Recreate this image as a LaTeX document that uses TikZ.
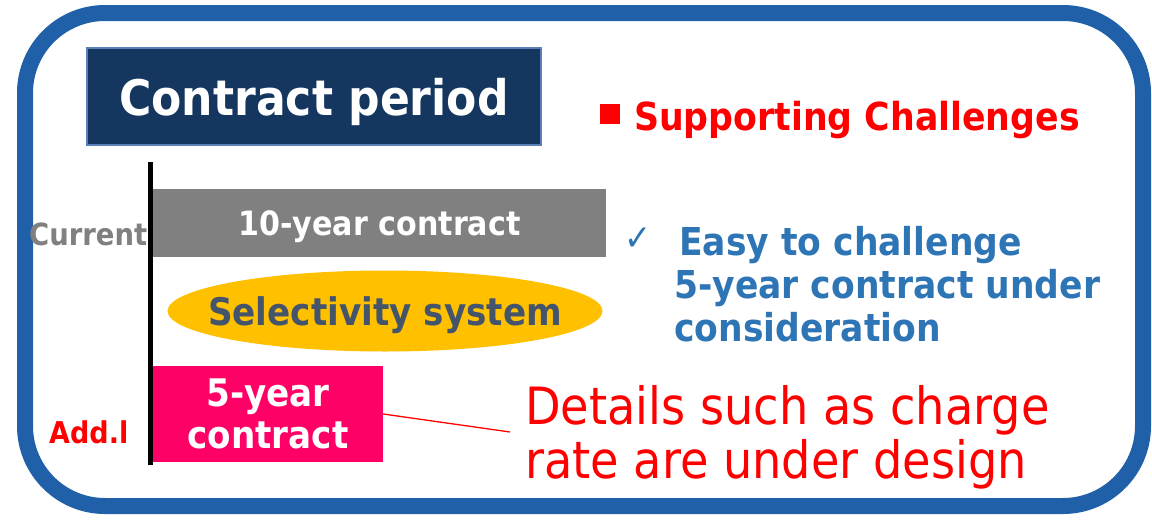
\documentclass[tikz,border=0pt]{standalone}
\usepackage{fontspec}
\setmainfont{DejaVu Sans}[FakeStretch=0.9]
\usetikzlibrary{shapes.geometric}
\definecolor{frameblue}{HTML}{2060A8}
\definecolor{navy}{HTML}{14365F}
\definecolor{navyedge}{HTML}{5A80B8}
\definecolor{bargray}{HTML}{808080}
\definecolor{gold}{HTML}{FFC000}
\definecolor{slate}{HTML}{44546A}
\definecolor{hotpink}{HTML}{FF0066}
\definecolor{textblue}{HTML}{2E75B6}
\newcommand{\fs}[1]{\fontsize{#1}{#1}\selectfont}
\tikzset{
  txt/.style={inner sep=0pt, anchor=base west},
  barbox/.style={inner sep=0pt, text=white, font=\bfseries\fs{33.5}, text depth=0pt},
}
\begin{document}
\begin{tikzpicture}[x=1pt, y=-1pt]
\useasboundingbox (0,0) rectangle (1152,520);
\fill[white] (0,0) rectangle (1152,520);

% outer frame
\draw[line width=16pt, frameblue, rounded corners=80pt] (25,13) rectangle (1143,506);

% title
\node[barbox, fill=navy, draw=navyedge, line width=1.5pt, font=\bfseries\fs{49},
      minimum width=454, minimum height=97] (title) at (314,96.5) {Contract period};

% supporting challenges heading
\node[fill=red, minimum size=20pt, inner sep=0pt] (sq) at (610,114) {};
\node[txt, text=red, font=\bfseries\fs{38.6}] (sup) at (634,130) {Supporting Challenges};

% timeline axis
\coordinate (axtop) at (150,162);
\coordinate (axbot) at (150,465);
\draw[line width=5pt] (axtop) -- (axbot);

% current contract
\node[barbox, fill=bargray, minimum width=453, minimum height=68] (ten) at (379.5,223) {10-year contract};
\node[txt, text=bargray, font=\bfseries\fs{30.5}] (cur) at (29,245) {Current};

% selectivity system
\node[ellipse, fill=gold, inner sep=0pt, minimum width=435, minimum height=81] (sel) at (385,311) {};
\node[inner sep=0pt, text=slate, font=\bfseries\fs{38}, text depth=0pt] (seltxt) at (sel.center) {Selectivity system};

% additional contract
\node[inner sep=0pt, fill=hotpink, minimum width=230, minimum height=96, text=white,
      align=center, font=\bfseries\fontsize{38}{42}\selectfont] (five) at (268,414) {5-year\\contract};
\node[txt, text=red, font=\bfseries\fs{30}] (add) at (49,443) {Add.l};

% callout
\coordinate (callend) at (510,432);
\draw[red, line width=1.3pt] (five.east) -- (callend);
\node[txt, text=red, font=\fs{51.4}] (det1) at (525,424) {Details such as charge};
\node[txt, text=red, font=\fs{51.4}] (det2) at (525,478) {rate are under design};

% easy to challenge
\node[txt, text=textblue, font=\fs{36}] (chk) at (624,250) {✓};
\node[txt, text=textblue, font=\bfseries\fs{38.4}] (easy1) at (679,255) {Easy to challenge};
\node[txt, text=textblue, font=\bfseries\fs{38.4}] (easy2) at (674,298) {5-year contract under};
\node[txt, text=textblue, font=\bfseries\fs{38.4}] (easy3) at (674,341) {consideration};
\end{tikzpicture}
\end{document}
